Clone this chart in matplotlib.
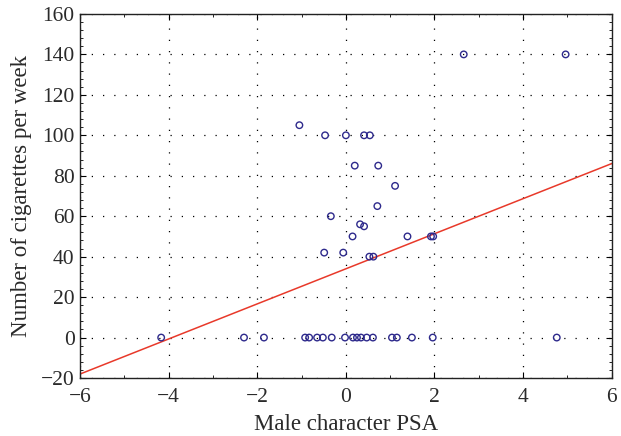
import numpy as np
import matplotlib
matplotlib.use("Agg")
import matplotlib.pyplot as plt
from matplotlib.ticker import MultipleLocator

# male character PSA vs cigarettes per week
psa = [-4.17, -2.30, -1.85, -0.92, -0.83, -0.65, -0.52, -0.32, -0.02, 0.16,
       0.25, 0.34, 0.47, 0.61, 1.04, 1.15, 1.49, 1.96, 4.76,
       -1.05, -0.47, 0.00, 0.41, 0.54, 0.20, 0.73, 1.11, 0.71, -0.34,
       0.32, 0.41, 0.15, 1.39, 1.92, 1.97, -0.49, -0.06, 0.53, 0.62,
       2.66, 4.96]
cigs = [0, 0, 0, 0, 0, 0, 0, 0, 0, 0,
        0, 0, 0, 0, 0, 0, 0, 0, 0,
        105, 100, 100, 100, 100, 85, 85, 75, 65, 60,
        56, 55, 50, 50, 50, 50, 42, 42, 40, 40,
        140, 140]

# fitted regression line
fit_intercept = 34.0
fit_slope = 8.67

plt.rcParams['font.family'] = ['Liberation Serif', 'DejaVu Serif']
txt = '#2a2a2a'

fig = plt.figure(figsize=(6.21, 4.36), dpi=100)
ax = fig.add_axes([0.129, 0.133, 0.856, 0.835])

xl = np.array([-6, 6])
ax.plot(xl, fit_intercept + fit_slope * xl, color='#e8392a', lw=1.1, zorder=2)
ax.scatter(psa, cigs, s=22, facecolors='none', edgecolors='#2e2a8c',
           linewidths=1.0, zorder=3)

ax.set_xlim(-6, 6)
ax.set_ylim(-20, 160)
ax.xaxis.set_major_locator(MultipleLocator(2))
ax.xaxis.set_minor_locator(MultipleLocator(1))
ax.yaxis.set_major_locator(MultipleLocator(20))
ax.yaxis.set_minor_locator(MultipleLocator(4))
ax.tick_params(which='both', direction='in', top=True, right=True,
               labelsize=15.5, labelcolor=txt)
ax.tick_params(axis='x', pad=7)
ax.tick_params(axis='y', pad=4)
ax.tick_params(which='major', length=4)
ax.tick_params(which='minor', length=2.5)
ax.grid(True, which='major', color='black', linestyle=(0, (1, 8)), lw=0.9)
for s in ax.spines.values():
    s.set_linewidth(1.0)
    s.set_color('#222222')

ax.set_xlabel('Male character PSA', fontsize=16.5, color=txt, labelpad=5)
ax.set_ylabel('Number of cigarettes per week', fontsize=16.5, color=txt,
              labelpad=6)

fig.savefig('out.png', dpi=100)
